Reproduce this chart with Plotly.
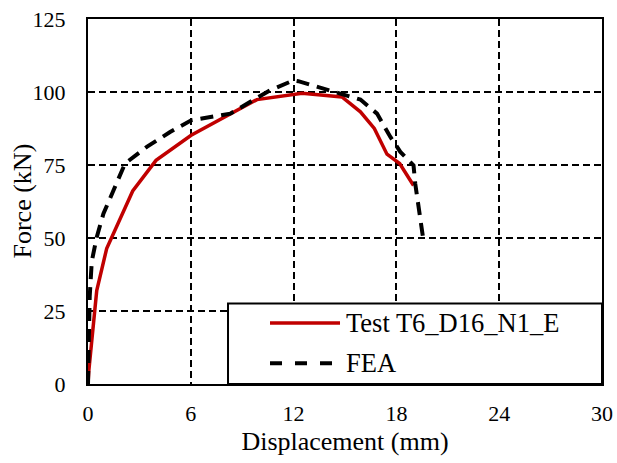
import plotly.graph_objects as go

test_x = [0, 0.05, 0.51, 1.09, 2.61, 3.97, 6.02, 8.3, 9.86, 12.5, 14.82, 15.9, 16.71, 17.45, 18.19, 19.0]
test_y = [0, 4.7, 32.0, 46.4, 66.1, 76.6, 85.2, 92.6, 97.4, 99.6, 98.3, 93.2, 87.5, 78.7, 75.5, 68.0]

fea_x = [0, 0.04, 0.1, 0.22, 0.51, 0.9, 1.68, 2.16, 3.43, 4.79, 6.02, 8.3, 10.63, 12.0, 12.27, 14.33, 15.9, 16.87, 17.65, 18.23, 19.0, 19.1, 19.4, 19.55, 19.65]
fea_y = [0, 14, 30, 42, 50.3, 58.3, 68.6, 75.5, 81.2, 86.3, 90.3, 92.6, 100.6, 104.0, 103.7, 100.3, 97.4, 92.6, 84.6, 79.5, 74.9, 68.6, 56.1, 50.3, 50.0]

x_ticks = [0, 6, 12, 18, 24, 30]
y_ticks = [0, 25, 50, 75, 100, 125]

series_names = ["Test T6_D16_N1_E", "FEA"]
series_colors = ["#C00000", "black"]
series_dash = ["solid", "13px,8px"]
series_width = [3.5, 4]

font = "Liberation Serif, Times New Roman, serif"

fig = go.Figure()
for xs, ys, name, col, dsh, w in zip([test_x, fea_x], [test_y, fea_y], series_names,
                                     series_colors, series_dash, series_width):
    fig.add_trace(go.Scatter(x=xs, y=ys, mode="lines", name=name,
                             line=dict(color=col, width=w, dash=dsh), showlegend=False))

axis_common = dict(showline=True, linecolor="black", linewidth=2, mirror=True,
                   showgrid=True, gridcolor="black", gridwidth=1.5, griddash="7px,4px",
                   zeroline=False, ticks="", automargin=False,
                   tickfont=dict(family=font, size=22, color="black"))

# legend box (drawn in paper coordinates)
shapes = [dict(type="rect", xref="paper", yref="paper", x0=0.2724, x1=1.0, y0=0.0, y1=0.2207,
               line=dict(color="black", width=2), fillcolor="white", layer="above")]
annotations = []
row_y = [0.1672, 0.0566]
legend_dash = ["solid", "12px,13px"]
for name, col, dsh, w, yy in zip(series_names, series_colors, legend_dash, series_width, row_y):
    shapes.append(dict(type="line", xref="paper", yref="paper", x0=0.3541, x1=0.4903, y0=yy, y1=yy,
                       line=dict(color=col, width=w, dash=dsh), layer="above"))
    annotations.append(dict(text=name, xref="paper", yref="paper", x=0.4990, y=yy, xanchor="left",
                            yanchor="middle", showarrow=False,
                            font=dict(family=font, size=26.5, color="black")))

# y-axis title
annotations.append(dict(text="Force (kN)", xref="paper", yref="paper", x=-0.1284, y=0.5,
                        xanchor="center", yanchor="middle", textangle=-90, showarrow=False,
                        font=dict(family=font, size=26, color="black")))

fig.update_layout(
    width=617, height=463,
    margin=dict(l=88, r=15, t=19, b=79),
    paper_bgcolor="white", plot_bgcolor="white",
    xaxis=dict(range=[0, 30], tickvals=x_ticks, ticklabelstandoff=9,
               title=dict(text="Displacement (mm)", font=dict(family=font, size=26, color="black"), standoff=6),
               **axis_common),
    yaxis=dict(range=[0, 125], tickvals=y_ticks, ticklabelstandoff=16, **axis_common),
    shapes=shapes,
    annotations=annotations,
    showlegend=False,
)

fig.write_html("out.html")
